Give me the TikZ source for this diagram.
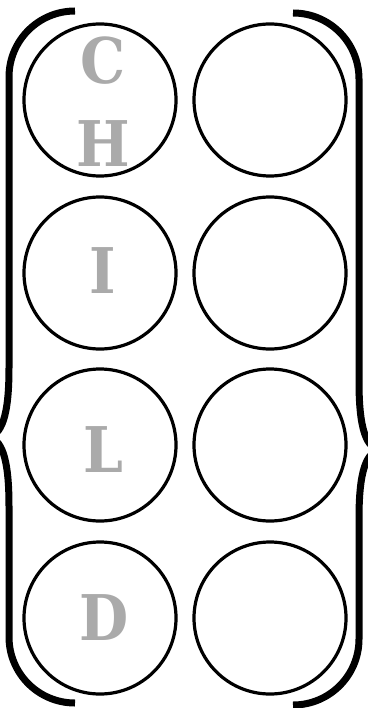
\documentclass[tikz,border=0pt]{standalone}
\usepackage{fontspec}
\newfontfamily\letterfont{DejaVu Serif Condensed}
\definecolor{lettergray}{RGB}{170,170,170}
\begin{document}
\begin{tikzpicture}[x=1pt,y=-1pt,
  circ/.style={draw=black,line width=3.2pt,circle,minimum size=152pt,inner sep=0pt},
  letter/.style={text=lettergray,font=\letterfont\bfseries\fontsize{63}{63}\selectfont,anchor=base,inner sep=0pt},
  bracket/.style={draw=black,line width=7pt}]
\useasboundingbox (0,0) rectangle (367,708);
% circles
\node[circ] (l1) at (100,100) {};
\node[circ] (r1) at (270,100) {};
\node[circ] (l2) at (100,273) {};
\node[circ] (r2) at (270,273) {};
\node[circ] (l3) at (100,445) {};
\node[circ] (r3) at (270,445) {};
\node[circ] (l4) at (100,618) {};
\node[circ] (r4) at (270,618) {};
% letters
\node[letter] (c) at (103,84) {C};
\node[letter] (h) at (103,167) {H};
\node[letter] (i) at (103,293) {I};
\node[letter] (el) at (103,472) {L};
\node[letter] (d) at (104,640) {D};
% left brace
\draw[bracket] (75,11) .. controls (38.5,11) and (9,40.5) .. (9,77)
  -- (9,368) .. controls (9,415) and (2,437) .. (-14,437)
  .. controls (2,437) and (9,459) .. (9,506)
  -- (9,637) .. controls (9,673.5) and (38.5,703) .. (75,703);
% right brace
\draw[bracket] (293,13) .. controls (329.5,13) and (359,42.5) .. (359,79)
  -- (359,382) .. controls (359,428) and (366,450) .. (382,450)
  .. controls (366,450) and (359,472) .. (359,518)
  -- (359,639) .. controls (359,675.5) and (329.5,705) .. (293,705);
\end{tikzpicture}
\end{document}
